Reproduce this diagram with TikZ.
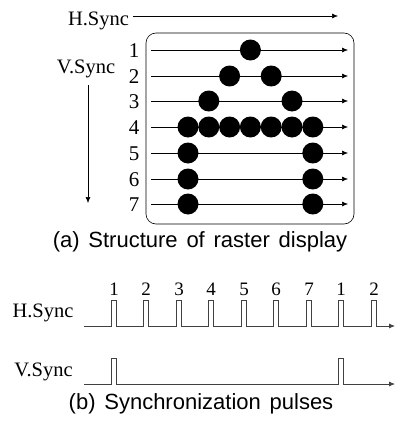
\documentclass[tikz,border=0pt]{standalone}
\usepackage{fontspec}
\setmainfont{Liberation Serif}
\setsansfont{Liberation Sans}
\usetikzlibrary{arrows.meta}

\begin{document}
\begin{tikzpicture}[x=1pt,y=-1pt,
    dot/.style={circle,fill=black,inner sep=0pt,minimum size=21pt},
    lbl/.style={font=\fontsize{20.5}{20.5}\selectfont,inner sep=0pt,anchor=base},
    row/.style={font=\fontsize{21}{21}\selectfont,inner sep=0pt,anchor=base},
    tick/.style={font=\fontsize{19}{19}\selectfont,inner sep=0pt,anchor=base},
    capt/.style={font=\sffamily\fontsize{22}{22}\selectfont,inner sep=0pt,anchor=base},
    scan/.style={-{Latex[length=6pt,width=5pt]},line width=0.6pt},
    pulse/.style={-{Latex[length=6pt,width=5pt]},line width=0.8pt,draw=black!75}]
  \useasboundingbox (0,0) rectangle (396,423);
  % (a) raster
  \draw
    (98.5,25) node[lbl] (hs){H.Sync}
    (86,73) node[lbl] (vs){V.Sync}
    (134,57) node[row] (1){1}
    (134,83) node[row] (2){2}
    (134,108) node[row] (3){3}
    (134,134) node[row] (4){4}
    (134,160) node[row] (5){5}
    (134,186) node[row] (6){6}
    (134,211) node[row] (7){7};
  \coordinate (hsend) at (338,16);
  \coordinate (vstop) at (88,85);
  \coordinate (vsend) at (88,203);
  \draw[scan] (hs.east |- 0,16) ++(4,0) -- (hsend);
  \draw[scan] (vstop) -- (vsend);
  \draw[line width=0.6pt,rounded corners=10pt] (146,33) rectangle (354,224);
  \coordinate (s1) at (151,50);  \coordinate (e1) at (348,50);
  \coordinate (s2) at (151,76);  \coordinate (e2) at (348,76);
  \coordinate (s3) at (151,101); \coordinate (e3) at (348,101);
  \coordinate (s4) at (151,127); \coordinate (e4) at (348,127);
  \coordinate (s5) at (151,153); \coordinate (e5) at (348,153);
  \coordinate (s6) at (151,179); \coordinate (e6) at (348,179);
  \coordinate (s7) at (151,204); \coordinate (e7) at (348,204);
  \begin{scope}[scan]
    \draw (s1) -- (e1);
    \draw (s2) -- (e2);
    \draw (s3) -- (e3);
    \draw (s4) -- (e4);
    \draw (s5) -- (e5);
    \draw (s6) -- (e6);
    \draw (s7) -- (e7);
  \end{scope}
  \draw
    (250.4,50) node[dot] (p14){}
    (229.6,76) node[dot] (p23){}
    (271.2,76) node[dot] (p25){}
    (208.8,101) node[dot] (p32){}
    (292,101) node[dot] (p36){}
    (188,127) node[dot] (p41){}
    (208.8,127) node[dot] (p42){}
    (229.6,127) node[dot] (p43){}
    (250.4,127) node[dot] (p44){}
    (271.2,127) node[dot] (p45){}
    (292,127) node[dot] (p46){}
    (312.8,127) node[dot] (p47){}
    (188,153) node[dot] (p51){}
    (312.8,153) node[dot] (p57){}
    (188,179) node[dot] (p61){}
    (312.8,179) node[dot] (p67){}
    (188,204) node[dot] (p71){}
    (312.8,204) node[dot] (p77){};
  \node[capt] (capa) at (200,247) {(a)\hspace{0.4em}Structure\hspace{0.4em}of\hspace{0.4em}raster\hspace{0.4em}display};
  % (b) pulses
  \draw
    (43,317) node[lbl] (hl){H.Sync}
    (43.5,376) node[lbl] (vl){V.Sync}
    (114,295) node[tick] (t1){1}
    (146,295) node[tick] (t2){2}
    (179,295) node[tick] (t3){3}
    (211,295) node[tick] (t4){4}
    (244,295) node[tick] (t5){5}
    (276,295) node[tick] (t6){6}
    (309,295) node[tick] (t7){7}
    (341,295) node[tick] (t8){1}
    (374,295) node[tick] (t9){2};
  \draw[pulse] (84,326)
    -- (111,326) -- (111,300) -- (116,300) -- (116,326)
    -- (143.5,326) -- (143.5,300) -- (148.5,300) -- (148.5,326)
    -- (176,326) -- (176,300) -- (181,300) -- (181,326)
    -- (208.5,326) -- (208.5,300) -- (213.5,300) -- (213.5,326)
    -- (241,326) -- (241,300) -- (246,300) -- (246,326)
    -- (273.5,326) -- (273.5,300) -- (278.5,300) -- (278.5,326)
    -- (306,326) -- (306,300) -- (311,300) -- (311,326)
    -- (338.5,326) -- (338.5,300) -- (343.5,300) -- (343.5,326)
    -- (371,326) -- (371,300) -- (376,300) -- (376,326)
    -- (395,326);
  \draw[pulse] (84,384)
    -- (111,384) -- (111,358) -- (116,358) -- (116,384)
    -- (338.5,384) -- (338.5,358) -- (343.5,358) -- (343.5,384)
    -- (395,384);
  \node[capt] (capb) at (201,409) {(b)\hspace{0.4em}Synchronization\hspace{0.4em}pulses};
\end{tikzpicture}
\end{document}
